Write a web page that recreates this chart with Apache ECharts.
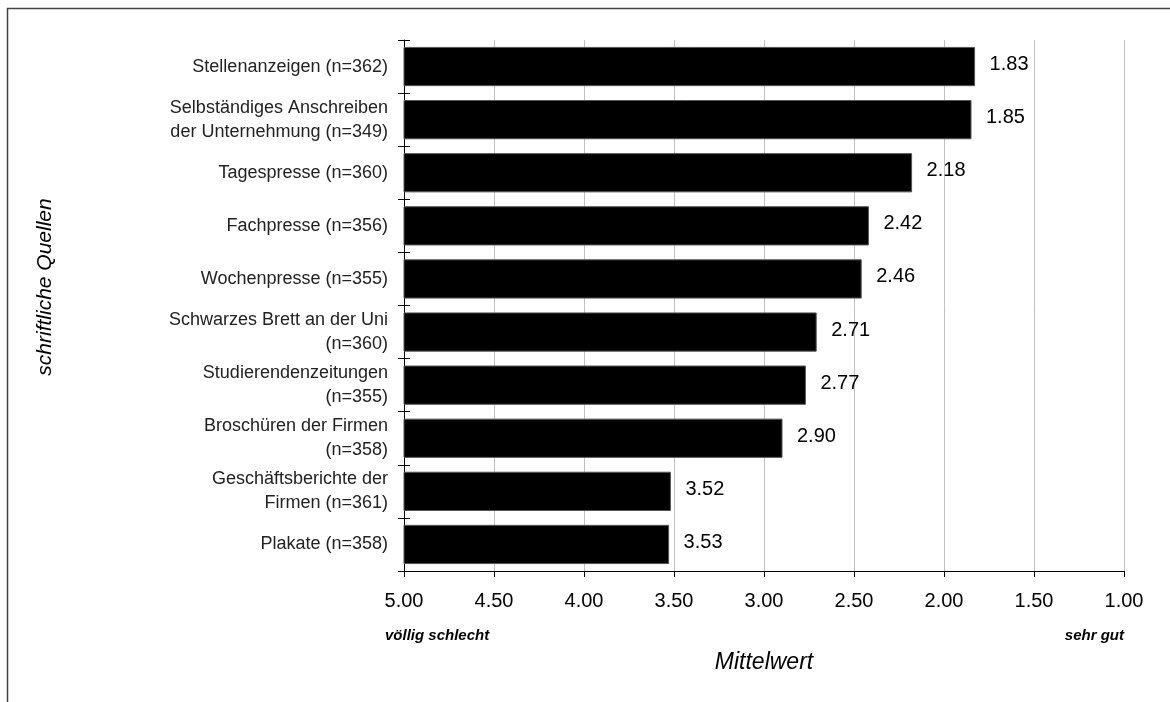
<!DOCTYPE html>
<html>
<head>
<meta charset="utf-8">
<script src="https://cdn.jsdelivr.net/npm/echarts@6/dist/echarts.min.js"></script>
<style>
  html, body { margin: 0; padding: 0; background: #fff; }
  #chart { width: 1170px; height: 702px; }
</style>
</head>
<body>
<div id="chart"></div>
<script>
// Sources of written information, rated on a scale from 1 (sehr gut) to 5 (völlig schlecht)
const categories = [
  'Stellenanzeigen (n=362)',
  'Selbständiges Anschreiben\nder Unternehmung (n=349)',
  'Tagespresse (n=360)',
  'Fachpresse (n=356)',
  'Wochenpresse (n=355)',
  'Schwarzes Brett an der Uni\n(n=360)',
  'Studierendenzeitungen\n(n=355)',
  'Broschüren der Firmen\n(n=358)',
  'Geschäftsberichte der\nFirmen (n=361)',
  'Plakate (n=358)'
];
const meanValues = [1.83, 1.85, 2.18, 2.42, 2.46, 2.71, 2.77, 2.90, 3.52, 3.53];

const scaleWorst = 5;   // bars grow from the "völlig schlecht" end
const scaleBest = 1;
const tickStep = 0.5;

const FONT = "'Liberation Sans', Arial, sans-serif";

const chart = echarts.init(document.getElementById('chart'), null, { renderer: 'canvas' });

const option = {
  backgroundColor: '#fff',
  animation: false,
  grid: { left: 404, right: 46, top: 40, bottom: 131, containLabel: false },
  xAxis: {
    type: 'value',
    min: scaleBest,
    max: scaleWorst,
    interval: tickStep,
    inverse: true,
    position: 'bottom',
    name: 'Mittelwert',
    nameLocation: 'middle',
    nameGap: 80,
    nameTextStyle: { fontFamily: FONT, fontSize: 23, fontStyle: 'italic', color: '#000' },
    axisLine: { show: true, lineStyle: { color: '#000', width: 1 } },
    axisTick: { show: true, length: 6, lineStyle: { color: '#000' } },
    axisLabel: {
      fontFamily: FONT, fontSize: 20, color: '#000', margin: 20,
      formatter: v => v.toFixed(2)
    },
    splitLine: { show: true, lineStyle: { color: '#c0c0c0', width: 1 } }
  },
  yAxis: [
    {
      type: 'category',
      data: categories,
      inverse: true,
      position: 'left',
      axisLine: { show: true, onZero: false, lineStyle: { color: '#000', width: 1 } },
      axisTick: { show: true, length: 6, lineStyle: { color: '#000' } },
      axisLabel: {
        fontFamily: FONT, fontSize: 18, color: '#222', margin: 16,
        lineHeight: 24, align: 'right'
      },
      splitLine: { show: false }
    },
    {
      // mirror ticks on the inner side so they cross the axis line
      type: 'category',
      data: categories,
      inverse: true,
      position: 'left',
      offset: 0,
      axisLine: { show: false, onZero: false },
      axisTick: { show: true, inside: true, length: 6, lineStyle: { color: '#000' } },
      axisLabel: { show: false },
      splitLine: { show: false }
    }
  ],
  graphic: [
    {
      type: 'rect',
      left: 5, top: 6,
      shape: { width: 1250, height: 800 },
      style: { fill: 'none', stroke: '#444', lineWidth: 1.5 },
      silent: true
    },
    {
      type: 'text',
      x: 45, y: 287,
      rotation: Math.PI / 2,
      style: {
        text: 'schriftliche Quellen',
        font: `italic 21px ${FONT}`, fill: '#000',
        align: 'center', verticalAlign: 'middle'
      }
    },
    {
      type: 'text',
      left: 385, top: 628,
      style: { text: 'völlig schlecht', font: `italic bold 15px ${FONT}`, fill: '#000' }
    },
    {
      type: 'text',
      right: 46, top: 628,
      style: { text: 'sehr gut', font: `italic bold 15px ${FONT}`, fill: '#000', textAlign: 'right' }
    }
  ],
  series: [
    {
      type: 'custom',
      name: 'Mittelwert',
      xAxisIndex: 0,
      yAxisIndex: 0,
      encode: { x: 0, y: 1 },
      data: meanValues.map((v, i) => [v, i]),
      renderItem: (params, api) => {
        const v = api.value(0);
        const idx = api.value(1);
        const start = api.coord([scaleWorst, idx]);
        const end = api.coord([v, idx]);
        const band = api.size([0, 1])[1];
        const h = band * 0.72;
        return {
          type: 'group',
          children: [
            {
              type: 'rect',
              shape: { x: start[0], y: start[1] - h / 2, width: end[0] - start[0], height: h },
              style: { fill: '#000', stroke: '#555', lineWidth: 1 }
            },
            {
              type: 'text',
              style: {
                text: v.toFixed(2),
                x: end[0] + 15,
                y: end[1] - 2,
                fontFamily: FONT,
                fontSize: 20,
                fill: '#000',
                verticalAlign: 'middle',
                align: 'left'
              }
            }
          ]
        };
      }
    }
  ]
};

chart.setOption(option);
</script>
</body>
</html>
